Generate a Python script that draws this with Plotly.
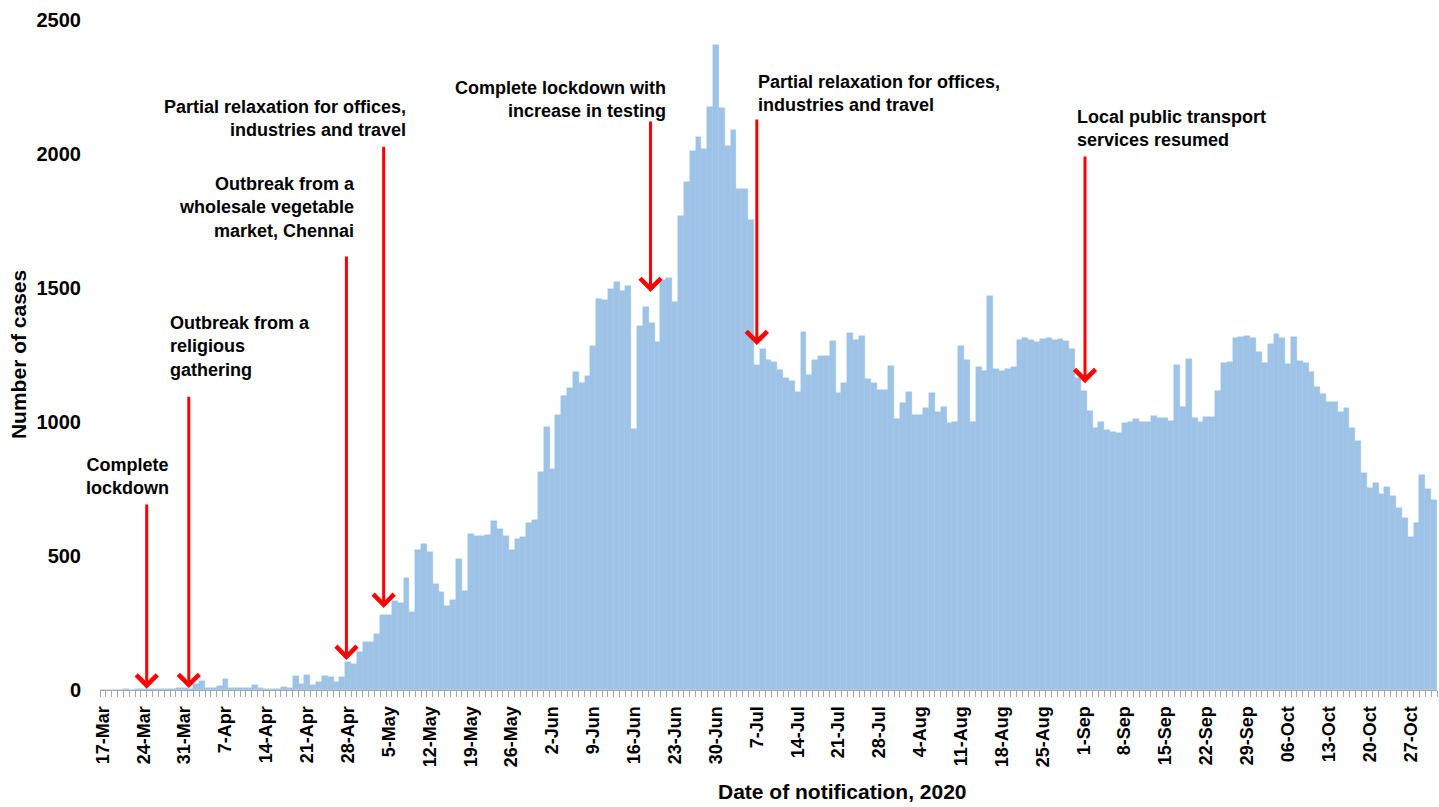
import pandas as pd
import plotly.graph_objects as go

# ---------------- data ----------------
dates = pd.date_range("2020-03-17", "2020-10-31", freq="D")

cases = [
    1, 1, 0, 1, 2, 1, 3, 4, 3, 5, 4, 2, 3, 7, 6, 4, 24, 34, 6, 6,
    14, 40, 6, 9, 9, 9, 17, 9, 5, 5, 2, 11, 6, 51, 21, 56, 17, 30, 51, 48,
    31, 50, 105, 96, 140, 178, 178, 208, 280, 280, 332, 326, 417, 291, 522, 544, 516, 395, 367, 313,
    336, 488, 371, 582, 575, 575, 577, 632, 600, 575, 522, 565, 570, 624, 634, 812, 980, 826, 1026, 1098,
    1128, 1185, 1144, 1173, 1283, 1459, 1456, 1495, 1521, 1490, 1509, 974, 1358, 1428, 1370, 1300, 1530, 1536, 1447, 1770,
    1895, 2010, 2065, 2020, 2175, 2405, 2170, 2030, 2088, 1870, 1868, 1755, 1212, 1272, 1232, 1223, 1194, 1163, 1154, 1111,
    1337, 1175, 1231, 1247, 1247, 1303, 1109, 1147, 1333, 1306, 1321, 1160, 1144, 1119, 1119, 1210, 1011, 1072, 1113, 1025,
    1025, 1052, 1107, 1036, 1056, 997, 1000, 1285, 1231, 1001, 1205, 1191, 1470, 1196, 1190, 1196, 1206, 1306, 1312, 1306,
    1297, 1308, 1312, 1306, 1308, 1302, 1272, 1163, 1117, 1041, 979, 1000, 970, 961, 958, 997, 1001, 1010, 999, 1001,
    1022, 1016, 1016, 1005, 1213, 1056, 1235, 1014, 1000, 1017, 1020, 1116, 1221, 1224, 1312, 1318, 1321, 1312, 1262, 1221,
    1291, 1328, 1312, 1215, 1317, 1228, 1219, 1188, 1129, 1104, 1076, 1076, 1038, 1051, 976, 930, 811, 752, 771, 730,
    756, 724, 678, 643, 572, 622, 803, 751, 709,
]

tick_labels = [
    "17-Mar", "24-Mar", "31-Mar", "7-Apr", "14-Apr", "21-Apr", "28-Apr",
    "5-May", "12-May", "19-May", "26-May", "2-Jun", "9-Jun", "16-Jun",
    "23-Jun", "30-Jun", "7-Jul", "14-Jul", "21-Jul", "28-Jul", "4-Aug",
    "11-Aug", "18-Aug", "25-Aug", "1-Sep", "8-Sep", "15-Sep", "22-Sep",
    "29-Sep", "06-Oct", "13-Oct", "20-Oct", "27-Oct",
]

y_ticks = [0, 500, 1000, 1500, 2000, 2500]

event_texts = [
    "Complete<br>lockdown",
    "Outbreak from a<br>religious<br>gathering",
    "Outbreak from a<br>wholesale vegetable<br>market, Chennai",
    "Partial relaxation for offices,<br>industries and travel",
    "Complete lockdown with<br>increase in testing",
    "Partial relaxation for offices,<br>industries and travel",
    "Local public transport<br>services resumed",
]

# ---------------- figure ----------------
FONT = "Liberation Sans, Arial, sans-serif"
BAR = "#9DC3E6"
RED = "#FF0000"

fig = go.Figure(
    go.Bar(
        x=dates,
        y=cases,
        marker=dict(color=BAR, line=dict(width=0.4, color=BAR)),
        hovertemplate="%{x|%d-%b}: %{y}<extra></extra>",
    )
)

# arrows: (tip x, tip y, tail y)
arrows = [
    ("2020-03-24 12:00", 5, 698),
    ("2020-03-31 17:00", 7, 1100),
    ("2020-04-27 17:00", 112, 1623),
    ("2020-05-04 02:00", 306, 2033),
    ("2020-06-18 19:00", 1485, 2127),
    ("2020-07-07 00:00", 1287, 2134),
    ("2020-09-01 05:00", 1145, 1996),
]
annotations = []
for xd, ytip, ytail in arrows:
    annotations.append(dict(
        x=xd, y=ytip, ax=xd, ay=ytail, xref="x", yref="y", axref="x", ayref="y",
        text="", showarrow=True, arrowhead=4, arrowsize=1.35, arrowwidth=3,
        arrowcolor=RED, standoff=0,
    ))

# text labels: (x, y, xanchor, align)
text_pos = [
    ("2020-03-21 06:00", 797, "center", "center"),
    ("2020-03-28 03:00", 1280, "left", "left"),
    ("2020-04-29 12:00", 1802, "right", "right"),
    ("2020-05-08 05:00", 2134, "right", "right"),
    ("2020-06-21 17:00", 2205, "right", "right"),
    ("2020-07-06 20:00", 2227, "left", "left"),
    ("2020-08-30 12:00", 2097, "left", "left"),
]
for txt, (xd, yv, xa, al) in zip(event_texts, text_pos):
    annotations.append(dict(
        x=xd, y=yv, xref="x", yref="y", text=txt, showarrow=False,
        xanchor=xa, yanchor="middle", align=al,
        font=dict(family=FONT, size=18, color="black", weight="bold"),
    ))

# axis titles
annotations.append(dict(
    x=0.555, y=-0.152, xref="paper", yref="paper", text="Date of notification, 2020",
    showarrow=False, xanchor="center", yanchor="middle",
    font=dict(family=FONT, size=21, color="black", weight="bold"),
))
annotations.append(dict(
    x=-0.0613, y=0.5, xref="paper", yref="paper", text="Number of cases",
    showarrow=False, xanchor="center", yanchor="middle", textangle=-90,
    font=dict(family=FONT, size=21, color="black", weight="bold"),
))

fig.update_layout(
    width=1439, height=807,
    margin=dict(l=100, r=2, t=20, b=117),
    plot_bgcolor="white", paper_bgcolor="white",
    bargap=0, showlegend=False,
    font=dict(family=FONT, color="black"),
    annotations=annotations,
    xaxis=dict(
        type="date",
        automargin=False,
        range=["2020-03-16 12:00", "2020-10-31 12:00"],
        tickvals=list(dates[::7]),
        ticktext=tick_labels,
        tickangle=-90,
        tickfont=dict(family=FONT, size=18, color="black", weight="bold"),
        ticks="",
        ticklabelstandoff=8,
        showline=True, linecolor="#A6A6A6", linewidth=1,
        showgrid=False, zeroline=False,
        minor=dict(ticks="outside", ticklen=6, tickcolor="#A6A6A6", tickwidth=1,
                   tick0="2020-03-16 12:00", dtick=86400000, showgrid=False),
    ),
    yaxis=dict(
        automargin=False,
        range=[0, 2500],
        tickvals=y_ticks,
        tickfont=dict(family=FONT, size=20, color="black", weight="bold"),
        ticks="", ticklabelstandoff=18,
        showline=False, showgrid=False, zeroline=False,
    ),
)

fig.write_html(
    "out.html",
    config={"displayModeBar": False},
    post_script="document.body.style.margin='0';document.body.style.overflow='hidden';",
)
